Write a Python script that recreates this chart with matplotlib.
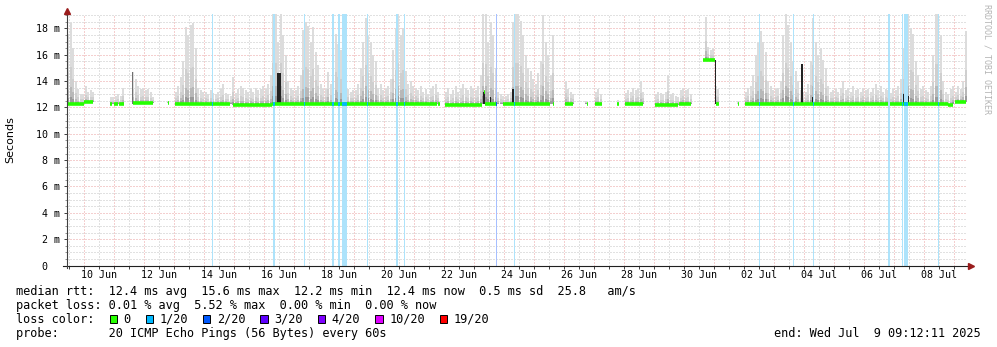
import numpy as np
import matplotlib
matplotlib.use("Agg")
import matplotlib.pyplot as plt
from matplotlib.patches import Rectangle
from datetime import datetime, timedelta

nan = np.nan

# all times are hours counted from 2025-06-09 00:00
t0 = datetime(2025, 6, 9)
x_start, x_end = 9.75, 729.75

# max ping per 2 hour bin, one row per day (00-02, 02-04, ..., 22-24), nan = no data
smoke_max = [
    [nan, nan, nan, nan, nan, 17.6, 18.4, 16.5, 14.0, 13.4, 13.0, 13.0],   # 09 Jun
    [13.6, 13.2, 13.3, 13.2, nan, nan, nan, nan, nan, nan, 12.8, 12.8],    # 10 Jun
    [12.9, 13.0, 12.9, 13.5, nan, nan, nan, 14.7, 14.2, 13.6, 13.4, 13.5], # 11 Jun
    [13.3, 13.4, 13.2, 12.8, nan, nan, nan, nan, nan, 12.5, nan, nan],     # 12 Jun
    [13.2, 13.6, 14.3, 15.5, 18.1, 17.5, 18.3, 18.4, 16.5, 13.5, 13.3, 13.2],
    [13.2, 13.0, 13.3, 13.1, 13.0, 13.2, 13.4, 13.8, 13.1, 13.0, 12.9, 14.3],
    [13.1, 13.4, 13.6, 13.5, 13.3, 13.2, 13.4, 13.2, 13.5, 13.3, 13.4, 13.6],
    [13.4, 13.8, 14.5, 19.1, 19.1, 17.0, 19.1, 17.5, 16.0, 14.0, 13.5, 13.3],  # 16 Jun
    [13.3, 13.6, 14.5, 17.9, 18.5, 18.2, 17.0, 18.1, 16.2, 15.2, 13.8, 13.4],
    [13.4, 14.7, 13.8, 16.5, 17.6, 16.8, 16.4, 16.0, 15.5, 13.4, 13.2, 13.3],
    [13.3, 13.8, 15.0, 17.0, 18.8, 17.4, 17.0, 16.0, 15.5, 13.5, 13.8, 13.3],
    [13.4, 13.6, 14.2, 16.4, 18.0, 19.1, 17.5, 18.0, 14.8, 13.8, 14.0, 13.6],  # 20 Jun
    [13.5, 13.3, 13.6, 13.2, 13.4, 13.0, 13.4, 13.6, 13.8, 13.2, nan, nan],
    [13.2, 13.5, 13.0, 13.3, 13.6, 13.2, 13.4, 13.8, 13.5, 13.3, 13.6, 13.4],
    [13.3, 13.6, 14.5, 19.1, 19.1, 17.0, 18.5, 17.5, 15.0, 13.2, 13.0, 12.9],
    [12.9, 13.0, 13.2, 18.5, 19.1, 19.1, 18.6, 17.5, 16.0, 15.0, 14.8, 14.2],  # 24 Jun
    [13.8, 14.6, 15.5, 19.0, 17.0, 16.0, 14.5, 17.5, nan, nan, nan, nan],
    [14.0, 13.4, 13.2, 13.0, nan, nan, nan, nan, 12.5, nan, nan, nan],
    [13.2, 13.4, 13.0, nan, nan, nan, nan, nan, nan, 12.6, nan, nan],
    [13.1, 13.3, 13.2, 13.5, 13.3, 13.4, 14.0, 13.2, nan, nan, nan, nan],      # 28 Jun
    [13.0, 13.2, 13.1, 13.0, 13.2, 14.5, 13.0, 13.1, 12.9, 12.8, 13.3, 13.5],
    [13.3, 13.4, 13.0, nan, nan, nan, nan, nan, 18.9, 16.6, 16.4, 16.5],
    [13.6, 13.4, nan, nan, nan, nan, nan, nan, nan, 12.5, nan, nan],           # 01 Jul
    [13.2, 13.5, 13.6, 14.5, 16.0, 16.9, 17.8, 17.0, 16.2, 14.0, 13.6, 13.3],
    [13.4, 13.5, 14.0, 17.5, 19.1, 18.3, 17.0, 15.5, 14.8, 14.0, 13.3, 13.2],
    [13.2, 13.8, 15.5, 18.8, 17.0, 16.0, 16.5, 15.6, 15.0, 13.6, 13.2, 13.3],  # 04 Jul
    [13.4, 13.2, 13.5, 14.0, 13.3, 13.5, 13.2, 13.6, 13.3, 13.4, 13.2, 13.5],
    [13.3, 13.4, 13.2, 13.5, 13.8, 13.3, 13.6, 13.2, 13.4, 13.3, 13.1, 13.4],
    [13.3, 13.6, 14.2, 16.5, 19.1, 19.1, 18.0, 17.6, 15.5, 14.5, 13.4, 13.6],
    [13.3, 13.2, 13.6, 16.0, 19.1, 19.1, 17.5, 14.0, 13.2, 13.0, 13.4, 13.6],  # 08 Jul
    [13.2, 13.6, 13.4, 14.0, 17.8, nan, nan, nan, nan, nan, nan, nan],
]

# median rtt segments: (from hour, to hour, ms)
median_segments = [
    (9.9, 23.8, 12.30), (23.8, 31.2, 12.40), (44.6, 46.4, 12.30), (48.0, 51.2, 12.30),
    (52.0, 55.8, 12.30), (63.2, 79.2, 12.35), (90.7, 92.0, 12.35), (96.6, 111.2, 12.30),
    (111.2, 120.6, 12.25), (120.6, 140.6, 12.30), (143.0, 174.2, 12.22), (174.2, 306.2, 12.30),
    (307.0, 308.2, 12.30), (312.6, 341.9, 12.20), (344.0, 344.8, 13.20), (344.8, 354.2, 12.25),
    (358.9, 396.6, 12.30), (399.0, 399.8, 12.30), (408.6, 415.2, 12.30), (425.8, 426.6, 12.30),
    (432.6, 438.0, 12.30), (450.4, 452.0, 12.30), (456.6, 471.2, 12.30), (480.6, 499.2, 12.20),
    (500.0, 509.1, 12.30), (519.2, 528.6, 15.60), (529.1, 532.0, 12.30), (546.9, 547.8, 12.25),
    (552.6, 667.0, 12.30), (668.5, 714.9, 12.25), (714.9, 718.9, 12.18), (720.6, 729.2, 12.45),
]

# packet loss events: (hour, duration in hours, lost pings of 20)
loss_events = [
    (125.9, 0.8, 1), (175.2, 1.6, 1), (200.0, 0.8, 1), (222.2, 1.4, 1), (227.0, 1.8, 1),
    (230.2, 3.8, 1), (250.4, 0.8, 1), (273.1, 1.6, 1), (279.8, 0.8, 1), (353.4, 0.8, 2),
    (367.8, 0.8, 1), (564.0, 0.8, 1), (591.2, 0.8, 1), (607.2, 0.8, 1), (666.7, 1.6, 1),
    (678.2, 1.0, 1), (680.0, 2.7, 1), (707.2, 0.8, 1),
]

# dense smoke spots: (hour, width hours, low ms, high ms, shade)
dense_smoke = [
    (62.3, 0.8, 12.3, 14.7, "#707070"), (174.7, 2.1, 12.3, 13.0, "#222222"),
    (178.0, 3.0, 12.3, 14.6, "#222222"), (343.0, 1.6, 12.3, 13.2, "#222222"),
    (348.6, 0.8, 12.3, 12.8, "#222222"), (353.2, 0.6, 12.3, 19.1, "#444444"),
    (365.9, 2.7, 12.3, 13.4, "#222222"), (528.4, 0.6, 12.3, 15.6, "#222222"),
    (597.4, 1.8, 12.3, 15.3, "#222222"), (606.0, 1.0, 12.3, 12.8, "#222222"),
    (678.5, 1.2, 12.3, 13.0, "#222222"), (683.0, 0.8, 12.3, 12.9, "#222222"),
]

loss_labels = ["0", "1/20", "2/20", "3/20", "4/20", "10/20", "19/20"]
loss_colors = ["#26ff00", "#00b8ff", "#0059ff", "#5e00ff", "#7e00ff", "#dd00ff", "#ff0000"]
stripe_colors = {1: "#ade3fb", 2: "#a6bfff"}

y_ticks = list(range(0, 19, 2))
y_tick_labels = ["0  "] + ["%d m" % v for v in y_ticks[1:]]

legend_lines = [
    "median rtt:  12.4 ms avg  15.6 ms max  12.2 ms min  12.4 ms now  0.5 ms sd  25.8   am/s",
    "packet loss: 0.01 % avg  5.52 % max  0.00 % min  0.00 % now",
    "loss color:",
    "probe:       20 ICMP Echo Pings (56 Bytes) every 60s",
]
end_text = "end: Wed Jul  9 09:12:11 2025"

W, H = 997, 347
mono = "DejaVu Sans Mono"


def fx(x):
    return x / W


def fy(y):
    return 1 - y / H


def median_at(h):
    for h0, h1, v in median_segments:
        if h0 <= h <= h1:
            return v
    return 12.3


fig = plt.figure(figsize=(W / 100, H / 100), dpi=100)
fig.patch.set_facecolor("white")
ax = fig.add_axes([fx(66.5), fy(265.5), 900 / W, 251.5 / H])
ax.set_xlim(x_start, x_end)
ax.set_ylim(0, 19.1)

# grid
for h in np.arange(12, 730, 12):
    major = h % 24 == 0
    ax.axvline(h, color="#eba0a0" if major else "#c4c4c4", lw=0.72, ls=(0, (1, 2)), zorder=0)
for v in np.arange(0.5, 19.1, 0.5):
    major = v % 2 == 0
    ax.axhline(v, color="#eba0a0" if major else "#c4c4c4", lw=0.72, ls=(0, (1, 2)), zorder=0)

# smoke
tops = np.array(smoke_max, dtype=float).ravel()
lefts = np.arange(len(tops)) * 2.0
bases = np.array([median_at(h + 1.0) for h in lefts])
ok = ~np.isnan(tops)
shades = [(1.0, "#dcdcdc"), (0.45, "#cfcfcf"), (0.2, "#b8b8b8"), (0.08, "#9a9a9a")]
for frac, col in shades:
    ax.bar(lefts[ok] + 0.15, (tops[ok] - bases[ok]) * frac, width=1.7, bottom=bases[ok],
           align="edge", color=col, linewidth=0, zorder=1)

for h, w, lo, hi, col in dense_smoke:
    ax.bar(h, hi - lo, width=w, bottom=lo, align="edge", color=col, linewidth=0, zorder=2)

# loss stripes
for h, w, n in loss_events:
    ax.axvspan(h, h + w, color=stripe_colors[n], lw=0, zorder=3)

# median line
for h0, h1, v in median_segments:
    ax.plot([h0, h1], [v, v], color=loss_colors[0], lw=2.6, solid_capstyle="butt", zorder=4)
for h, w, n in loss_events:
    for h0, h1, v in median_segments:
        a, b = max(h, h0), min(h + w, h1)
        if a < b:
            ax.plot([a, b], [v, v], color=loss_colors[n], lw=2.6, solid_capstyle="butt", zorder=5)

# axes
for s in ax.spines.values():
    s.set_visible(False)
ax.plot([-0.004, 1.004], [0, 0], transform=ax.transAxes, color="#202020", lw=0.8, clip_on=False, zorder=6)
ax.plot([0, 0], [-0.01, 1.01], transform=ax.transAxes, color="#404040", lw=0.8, clip_on=False, zorder=6)
ax.plot([0], [1.013], marker="^", ms=4.5, color="#9a1c1c", transform=ax.transAxes, clip_on=False, zorder=7)
ax.plot([1.005], [0], marker=">", ms=4.5, color="#9a1c1c", transform=ax.transAxes, clip_on=False, zorder=7)

label_days = [t0 + timedelta(days=1, hours=12) + timedelta(days=2 * k) for k in range(15)]
ax.set_xticks([(d - t0).total_seconds() / 3600 for d in label_days])
ax.set_xticklabels([d.strftime("%d %b") for d in label_days], family=mono, fontsize=7.2)
ax.set_xticks(np.arange(12, 730, 12), minor=True)
ax.set_yticks(y_ticks)
ax.set_yticklabels(y_tick_labels, family=mono, fontsize=7.2)
ax.set_yticks(np.arange(0, 19.1, 0.5), minor=True)
ax.tick_params(axis="x", which="both", length=2, width=0.7, color="#404040", pad=1.5)
ax.tick_params(axis="y", which="major", length=2.2, width=0.7, color="#404040", pad=2.5)
ax.tick_params(axis="y", which="minor", length=1.5, width=0.6, color="#808080")

fig.text(fx(10.7), fy(140), "Seconds", rotation=90, ha="center", va="center",
         fontsize=8, family="DejaVu Sans")
fig.text(fx(987), fy(4), "RRDTOOL / TOBI OETIKER", rotation=270, ha="center", va="top",
         fontsize=6, family=mono, color="#b4b4b4")

# legend
cw = 7.18
row_y = [291.7, 305.3, 319.3, 333.3]
for txt, y in zip(legend_lines, row_y):
    fig.text(fx(16), fy(y), txt, family=mono, fontsize=8.6, va="center", ha="left")
fig.text(fx(980.5), fy(row_y[3]), end_text, family=mono, fontsize=8.6, va="center", ha="right")

c = 13
for lab, col in zip(loss_labels, loss_colors):
    x = 16 + c * cw
    fig.patches.append(Rectangle((fx(x + 0.3), fy(row_y[2] + 4)), 7.5 / W, 8 / H,
                                 transform=fig.transFigure, facecolor=col,
                                 edgecolor="black", lw=0.7))
    fig.text(fx(16 + (c + 2) * cw), fy(row_y[2]), lab, family=mono, fontsize=8.6, va="center", ha="left")
    c = c + 2 + len(lab) + 2

fig.savefig("out.png", dpi=100, facecolor="white")
